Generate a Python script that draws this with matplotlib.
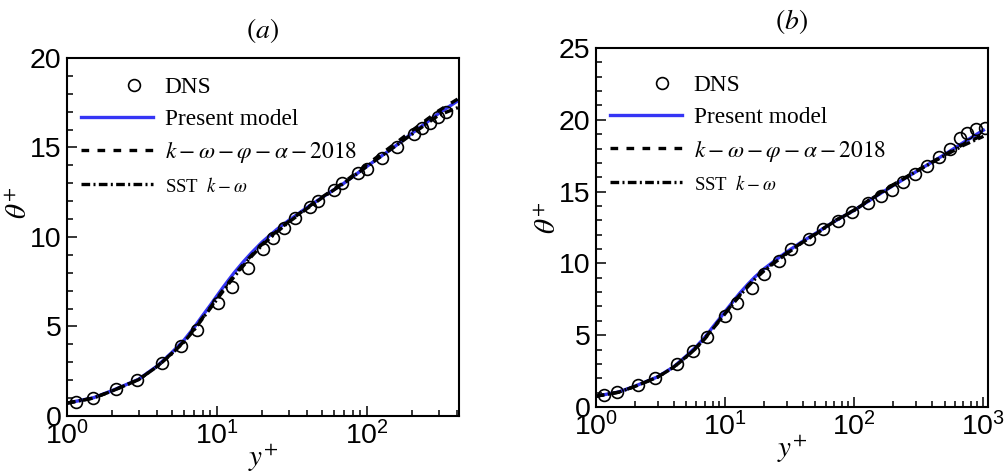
import matplotlib
matplotlib.use("Agg")
import matplotlib.pyplot as plt
from matplotlib.ticker import MultipleLocator, LogLocator, NullFormatter
from matplotlib.legend_handler import HandlerLine2DCompound

plt.rcParams['font.family'] = ['Liberation Sans', 'DejaVu Sans']
plt.rcParams['mathtext.fontset'] = 'stix'

# ---- panel (a) ----
dns_a_x = [1.15, 1.50, 2.11, 2.91, 4.32, 5.75, 7.32, 10.2, 12.6, 16.2, 20.4, 23.5, 28.1,
           33.1, 41.7, 47.4, 60.5, 67.8, 87.5, 99.5, 125, 159, 204, 231, 263, 299, 336]
dns_a_y = [0.77, 1.02, 1.51, 2.01, 2.94, 3.91, 4.80, 6.30, 7.22, 8.29, 9.31, 9.96, 10.49,
           11.04, 11.66, 12.03, 12.63, 13.00, 13.56, 13.80, 14.43, 15.05, 15.74, 16.07, 16.35, 16.72, 16.97]

mod_a_x = [1, 1.5, 2, 3, 4, 5, 6, 7, 8, 9, 10, 11, 12, 13, 15, 17, 20, 25, 30, 40, 50, 70,
           100, 150, 200, 300, 410]
present_a = [0.72, 1.02, 1.42, 2.05, 2.80, 3.55, 4.22, 4.92, 5.60, 6.18, 6.72, 7.20, 7.62, 8.00,
             8.62, 9.12, 9.72, 10.42, 10.92, 11.66, 12.20, 13.00, 13.95, 15.00, 15.80, 16.90, 17.65]
kwpa_a = [0.72, 1.00, 1.40, 2.03, 2.78, 3.50, 4.15, 4.82, 5.48, 6.05, 6.58, 7.05, 7.47, 7.85,
          8.48, 8.98, 9.60, 10.32, 10.86, 11.64, 12.22, 13.05, 14.05, 15.15, 15.95, 17.05, 17.75]
sst_a = [0.72, 1.00, 1.40, 2.03, 2.77, 3.48, 4.12, 4.78, 5.44, 6.00, 6.52, 6.98, 7.40, 7.78,
         8.40, 8.92, 9.55, 10.27, 10.82, 11.60, 12.18, 13.00, 13.95, 15.00, 15.75, 16.80, 17.25]

# ---- panel (b) ----
dns_b_x = [1.15, 1.46, 2.10, 2.86, 4.26, 5.67, 7.28, 10.0, 12.4, 16.1, 20.1, 26.0, 32.4, 44.9,
           57.6, 75.4, 96.7, 128, 160, 197, 237, 296, 368, 456, 552, 660, 752, 878, 1031]
dns_b_y = [0.84, 1.07, 1.53, 2.04, 3.00, 3.92, 4.86, 6.34, 7.22, 8.27, 9.27, 10.17, 10.99, 11.73,
           12.40, 12.98, 13.57, 14.19, 14.66, 15.12, 15.68, 16.26, 16.79, 17.44, 17.98, 18.72, 19.07, 19.35, 19.42]

mod_b_x = [1, 1.5, 2, 3, 4, 5, 6, 7, 8, 9, 10, 11, 12, 13, 15, 17, 20, 25, 30, 40, 50, 70,
           100, 150, 200, 300, 500, 700, 1000]
present_b = [0.75, 1.05, 1.45, 2.10, 2.80, 3.55, 4.22, 4.88, 5.55, 6.12, 6.65, 7.12, 7.55, 7.93,
             8.55, 9.05, 9.62, 10.28, 10.80, 11.55, 12.08, 12.92, 13.70, 14.72, 15.42, 16.38,
             17.58, 18.42, 19.28]
kwpa_b = [0.75, 1.03, 1.43, 2.08, 2.78, 3.50, 4.15, 4.80, 5.45, 6.02, 6.55, 7.00, 7.42, 7.80,
          8.42, 8.95, 9.52, 10.20, 10.72, 11.50, 12.05, 12.95, 13.72, 14.78, 15.48, 16.42,
          17.55, 18.30, 18.95]
sst_b = [0.75, 1.03, 1.43, 2.08, 2.77, 3.48, 4.12, 4.77, 5.42, 5.98, 6.50, 6.96, 7.38, 7.76,
         8.38, 8.90, 9.48, 10.15, 10.68, 11.48, 12.02, 12.92, 13.70, 14.75, 15.45, 16.40,
         17.50, 18.22, 18.85]

titles = [r'$(a)$', r'$(b)$']
labels = ['DNS', 'Present model', r'$k-\omega-\varphi-\alpha-2018$', r'SST  $k-\omega$']


class RightMarker(HandlerLine2DCompound):
    # put the symbol toward the right end of the handle, like the original legend
    def get_xdata(self, legend, xdescent, ydescent, width, height, fontsize):
        xd, _ = super().get_xdata(legend, xdescent, ydescent, width, height, fontsize)
        return xd, [-xdescent + 0.73 * width]


fig = plt.figure(figsize=(10.05, 4.73), dpi=100)
ax_a = fig.add_axes([0.0667, 0.1205, 0.390, 0.757])
ax_b = fig.add_axes([0.593, 0.1395, 0.3898, 0.759])

panels = [
    (ax_a, dns_a_x, dns_a_y, mod_a_x, present_a, kwpa_a, sst_a, (1, 410), 20, 0.948, 0.595),
    (ax_b, dns_b_x, dns_b_y, mod_b_x, present_b, kwpa_b, sst_b, (1, 1080), 25, 0.925, 0.526),
]

for i, (ax, dx, dy, mx, pm, kw, sst, xlim, ytop, ly, ylab_y) in enumerate(panels):
    l1, = ax.plot(mx, pm, color='#3535f5', lw=2.4, zorder=2)
    l2, = ax.plot(mx, kw, color='black', lw=2.4, dashes=(2.3, 2.5), zorder=3)
    l3, = ax.plot(mx, sst, color='black', lw=2.4, dashes=(2.6, 1.0, 0.6, 1.0), zorder=3)
    l0, = ax.plot(dx, dy, 'o', ms=8.5, mfc='none', mec='black', mew=1.2, zorder=4)

    ax.set_xscale('log')
    ax.set_xlim(*xlim)
    ax.set_ylim(0, ytop)
    ax.yaxis.set_major_locator(MultipleLocator(5))
    ax.yaxis.set_minor_locator(MultipleLocator(1))
    ax.xaxis.set_major_locator(LogLocator(base=10))
    ax.xaxis.set_minor_locator(LogLocator(base=10, subs=range(2, 10)))
    ax.xaxis.set_minor_formatter(NullFormatter())
    ax.tick_params(which='both', direction='in', top=False, right=False, width=1.1)
    ax.tick_params(which='major', length=7, labelsize=20.5, pad=4)
    ax.tick_params(which='minor', length=4.5)
    for s in ax.spines.values():
        s.set_linewidth(1.5)

    ax.set_xlabel(r'$y^{+}$', fontsize=21, labelpad=-6)
    ax.set_ylabel(r'$\theta^{+}$', fontsize=21)
    ax.yaxis.set_label_coords(-0.087, ylab_y)
    ax.set_title(titles[i], fontsize=20, pad=14)

    leg = ax.legend([l0, l1, l2, l3], labels, loc='upper left',
                    bbox_to_anchor=(0.035, ly), frameon=False,
                    prop={'family': 'Liberation Serif', 'size': 16.8},
                    handlelength=3.1, handletextpad=0.5, labelspacing=0.45,
                    borderpad=0, borderaxespad=0, numpoints=1,
                    handler_map={l0: RightMarker()})
    leg.get_texts()[3].set_fontsize(13.5)

fig.savefig('out.png', dpi=100)
